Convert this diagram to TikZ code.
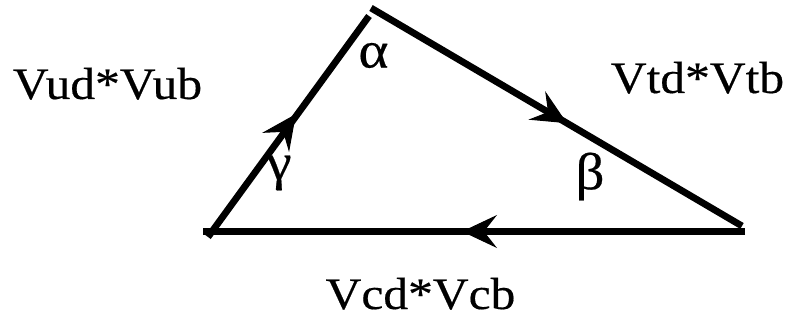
\documentclass[tikz,border=0pt]{standalone}
\usepackage{fontspec}
\setmainfont{Liberation Serif}[FakeStretch=1.10,FakeBold=0.4]
\usetikzlibrary{arrows.meta,calc}
\tikzset{
  edge/.style={line width=6.8pt, line cap=butt},
  tipped/.style={line width=1pt, -{Stealth[length=35pt,width=33pt,inset=13pt]}},
  lbl/.style={inner sep=0pt, anchor=base, font=\fontsize{45}{52}\selectfont},
  ang/.style={inner sep=0pt, anchor=center, font=\fontsize{52}{60}\selectfont}
}
\begin{document}
\begin{tikzpicture}[x=1pt,y=-1pt]
\useasboundingbox (0,0) rectangle (785,323);
% vertices (each edge drawn on its own, as in the original)
\coordinate (L1) at (208,237);
\coordinate (T1) at (369,16);
\coordinate (T2) at (371,8);
\coordinate (R2) at (742,226);
\coordinate (R3) at (745,231.5);
\coordinate (L3) at (203,231.5);
% arrow tip positions
\coordinate (mL) at (296,114);
\coordinate (mR) at (567,123.2);
\coordinate (mB) at (462,231.5);
% edges
\draw[edge] (L1) -- (T1);
\draw[edge] (T2) -- (R2);
\draw[edge] (R3) -- (L3);
% arrowheads
\draw[tipped] ($(L1)!0.5!(mL)$) -- (mL);
\draw[tipped] ($(T2)!0.5!(mR)$) -- (mR);
\draw[tipped] ($(R3)!0.5!(mB)$) -- (mB);
% labels
\node[lbl] (vub) at (107.5,99) {Vud*Vub};
\node[lbl] (vtb) at (697.5,93) {Vtd*Vtb};
\node[lbl] (vcb) at (420.5,309) {Vcd*Vcb};
\node[ang] (alpha) at (373.5,55.5) {α};
\node[ang] (gamma) at (279,173) {γ};
\node[ang] (beta) at (590,176.5) {β};
\end{tikzpicture}
\end{document}
